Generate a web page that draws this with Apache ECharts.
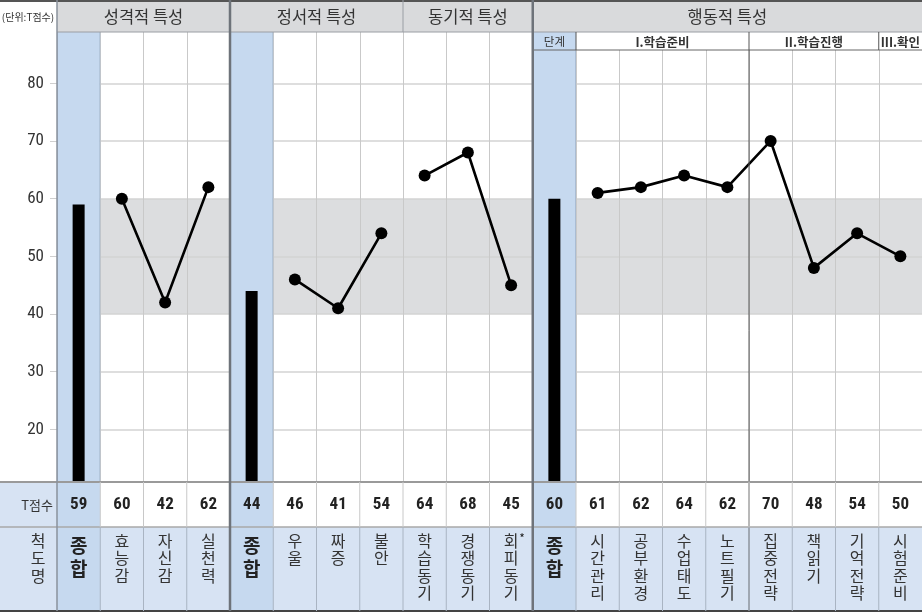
<!DOCTYPE html>
<html><head><meta charset="utf-8">
<script src="https://cdn.jsdelivr.net/npm/echarts@6/dist/echarts.min.js"></script>
<style>html,body{margin:0;padding:0;background:#fff}#c{width:922px;height:613px}</style>
</head><body><div id="c"></div>
<script>
// ---- data ----
const sectionNames = ['성격적 특성', '정서적 특성', '동기적 특성', '행동적 특성'];
const persNames = ['종합', '효능감', '자신감', '실천력'];
const persScores = [59, 60, 42, 62];
const emoNames = ['종합', '우울', '짜증', '불안'];
const emoScores = [44, 46, 41, 54];
const motNames = ['학습동기', '경쟁동기', '회피동기'];
const motScores = [64, 68, 45];
const behNames = ['종합', '시간관리', '공부환경', '수업태도', '노트필기', '집중전략', '책읽기', '기억전략', '시험준비'];
const behScores = [60, 61, 62, 64, 62, 70, 48, 54, 50];
const stageNames = ['단계', 'I.학습준비', 'II.학습진행', 'III.확인'];
const yTicks = [20, 30, 40, 50, 60, 70, 80];

// ---- build ----
const names = [].concat(persNames, emoNames, motNames, behNames);
const scores = [].concat(persScores, emoScores, motScores, behScores);
const N = names.length;
const cats = names.map((n, i) => i + ':' + n);
const totalIdx = [0, 4, 11];
const groups = [[1, 3], [5, 7], [8, 10], [12, 19]];

const L = 57, R = 922, colW = (R - L) / N;
const cx = i => L + colW * (i + 0.5);
const bx = i => L + colW * i;
const HEAD = 32, STAGE = 50, TROW = 482, SROW = 527, BOT = 611;

const KR = '"Noto Sans CJK KR", sans-serif';
const NUM = '"Liberation Sans Narrow", "Roboto Condensed", Roboto, sans-serif';
const BLUE = '#c6d9ef', LBLUE = '#d7e3f3';

const els = [];
const rect = (x, y, w, h, fill) => els.push({type: 'rect', z: 100, silent: true, shape: {x, y, width: w, height: h}, style: {fill}});
const line = (x1, y1, x2, y2, stroke, w) => els.push({type: 'line', z: 110, silent: true, shape: {x1, y1, x2, y2}, style: {stroke, lineWidth: w}});
const text = (x, y, t, o) => els.push({type: 'text', z: 120, silent: true, x, y, style: Object.assign({text: t, fill: '#333', align: 'center', verticalAlign: 'middle', fontFamily: KR, fontSize: 16}, o || {})});

// header row
rect(0, 0, L, HEAD, '#fff');
rect(L, 0, R - L, HEAD, '#d9dadc');
const secSpans = [[0, 4], [4, 8], [8, 11], [11, 20]];
secSpans.forEach((s, k) => text((bx(s[0]) + bx(s[1])) / 2, 17, sectionNames[k], {fontSize: 16.5}));
text(28, 17, '(단위:T점수)', {fontSize: 10, fill: '#333'});
// stage row (behaviour section)
rect(bx(11), HEAD, colW, STAGE - HEAD, BLUE);
rect(bx(12), HEAD, R - bx(12), STAGE - HEAD, '#fff');
const stageSpans = [[11, 12], [12, 16], [16, 19], [19, 20]];
stageSpans.forEach((s, k) => text((bx(s[0]) + bx(s[1])) / 2, 42, stageNames[k], k === 0 ? {fontSize: 11.5} : {fontSize: 12.5, fontWeight: 'bold'}));
// T score row
rect(0, TROW, L, SROW - TROW, LBLUE);
rect(L, TROW, R - L, SROW - TROW, '#fff');
totalIdx.forEach(i => rect(bx(i), TROW, colW, SROW - TROW, BLUE));
text(37, 505, 'T점수', {fontSize: 13});
scores.forEach((v, i) => text(cx(i), 505, String(v), {fontFamily: NUM, fontSize: 17, fontWeight: 'bold', fill: '#222'}));
// scale name row
rect(0, SROW, R, BOT - SROW, LBLUE);
totalIdx.forEach(i => rect(bx(i), SROW, colW, BOT - SROW, BLUE));
text(38, 532, '척도명'.split('').join('\n'), {verticalAlign: 'top', lineHeight: 17.5, fontSize: 16});
names.forEach((n, i) => {
  if (n === '종합') text(cx(i), 534, '종\n합', {verticalAlign: 'top', lineHeight: 23, fontSize: 19, fontWeight: 'bold', fill: '#222'});
  else text(cx(i), 532, n.split('').join('\n'), {verticalAlign: 'top', lineHeight: 17.5, fontSize: 16});
});
text(cx(10) + 11, 538, '*', {fontSize: 12, fill: '#222'});

// lines
line(0, 1, R, 1, '#555', 2);
line(L, HEAD, R, HEAD, '#9a9ea4', 1);
line(bx(11), STAGE, R, STAGE, '#666', 1);
[12, 16, 19].forEach(i => line(bx(i), HEAD, bx(i), STAGE, '#555', 1));
line(bx(16), STAGE, bx(16), BOT, '#555', 1);
line(bx(8), 0, bx(8), HEAD, '#9a9ea4', 1);
line(0, TROW, R, TROW, '#9a9a9a', 2);
line(0, SROW, R, SROW, '#a8a8a8', 1.5);
line(0, BOT, R, BOT, '#444', 2);
for (let i = 1; i < N; i++) {
  if (i === 4 || i === 11) continue;
  line(bx(i), TROW, bx(i), SROW, '#c8c8c8', 1);
  line(bx(i), SROW, bx(i), BOT, '#a9b4c2', 1);
}
line(L, 0, L, BOT, '#8a929c', 1.5);
[4, 11].forEach(i => line(bx(i), 0, bx(i), BOT, '#6e737a', 2.5));

// series data
const blueBg = scores.map((v, i) => totalIdx.includes(i) ? 90 : null);
const blackBars = scores.map((v, i) => totalIdx.includes(i) ? v : null);
const lineSeries = groups.map(g => ({
  type: 'line', xAxisIndex: 0, z: 5,
  data: scores.map((v, i) => (i >= g[0] && i <= g[1]) ? v : null),
  symbol: 'circle', symbolSize: 12, showSymbol: true,
  lineStyle: {color: '#000', width: 2.6}, itemStyle: {color: '#000'},
  animation: false
}));

const chart = echarts.init(document.getElementById('c'), null, {renderer: 'canvas'});
chart.setOption({
  animation: false,
  grid: {left: L, right: 0, top: 25.6, bottom: 613 - 487.1, containLabel: false},
  xAxis: [
    {type: 'category', data: cats, z: 1, boundaryGap: true,
     axisLine: {show: false}, axisTick: {show: false}, axisLabel: {show: false},
     splitLine: {show: true, interval: 0, lineStyle: {color: '#c9c9c9', width: 1}}},
    {type: 'category', data: cats, show: false, boundaryGap: true}
  ],
  yAxis: {
    type: 'value', min: 10, max: 90, interval: 10,
    axisLine: {show: false},
    axisTick: {show: true, length: 7, lineStyle: {color: '#cfcfcf'}},
    axisLabel: {margin: 13, color: '#333', fontFamily: NUM, fontSize: 17,
      formatter: v => yTicks.includes(v) ? String(v) : ''},
    splitLine: {show: true, lineStyle: {color: '#d3d3d3', width: 1.5}},
    splitArea: {show: true, areaStyle: {color: ['#fff', '#fff', '#fff', '#dcdddf', '#dcdddf', '#fff', '#fff', '#fff']}}
  },
  series: [
    {type: 'bar', xAxisIndex: 1, z: 2, data: blueBg, barWidth: '100%',
     itemStyle: {color: BLUE, borderColor: '#a9bcd3', borderWidth: 1}, silent: true},
    {type: 'bar', xAxisIndex: 0, z: 3, data: blackBars, barWidth: 12, itemStyle: {color: '#000'}}
  ].concat(lineSeries),
  graphic: {elements: els}
});
</script></body></html>
